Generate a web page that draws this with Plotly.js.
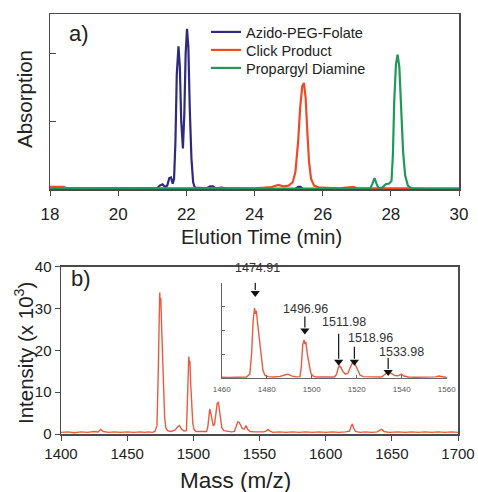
<!DOCTYPE html>
<html>
<head>
<meta charset="utf-8">
<script src="https://cdn.plot.ly/plotly-3.0.1.min.js"></script>
<style>html,body{margin:0;padding:0;background:#fff;}#chart{width:478px;height:492px;}</style>
</head>
<body>
<div id="chart"></div>
<script>
// ---------- Data: panel a) HPLC chromatograms ----------
const seriesNames = ['Azido-PEG-Folate', 'Click Product', 'Propargyl Diamine'];

const azidoTime = [18, 19, 20, 20.8, 21.15, 21.22, 21.3, 21.38, 21.44, 21.5, 21.55, 21.6, 21.64, 21.68, 21.72, 21.77, 21.81, 21.85, 21.9, 21.94, 21.98, 22.02, 22.06, 22.1, 22.15, 22.2, 22.25, 22.6, 22.7, 22.78, 22.86, 23.05, 23.15, 24, 25.2, 25.28, 25.35, 25.42, 26, 30];
const azidoAbs  = [0.01, 0.01, 0.0, 0.01, 0.01, 0.05, 0.07, 0.03, 0.05, 0.16, 0.17, 0.08, 0.15, 0.7, 1.7, 2.11, 1.8, 1.0, 0.6, 1.1, 2.0, 2.37, 2.1, 1.2, 0.45, 0.1, 0.02, 0.01, 0.04, 0.04, 0.01, 0.02, 0.01, 0, 0, 0.03, 0.03, 0, 0, 0];

const clickTime = [18, 18.4, 18.5, 19, 20, 21, 22, 23, 24, 24.3, 24.5, 24.7, 24.85, 25.0, 25.12, 25.2, 25.28, 25.34, 25.4, 25.45, 25.5, 25.55, 25.6, 25.66, 25.75, 25.9, 26.5, 26.9, 27, 28, 29, 30];
const clickAbs  = [0.03, 0.03, 0.01, 0.01, 0.01, 0.01, 0.0, 0.01, 0.01, 0.02, 0.03, 0.06, 0.04, 0.05, 0.1, 0.25, 0.7, 1.2, 1.52, 1.57, 1.35, 0.85, 0.4, 0.15, 0.05, 0.02, 0.01, 0.03, 0.01, 0.01, 0.01, 0.01];

const propTime = [18, 20, 22, 24, 26, 27, 27.4, 27.46, 27.52, 27.58, 27.64, 27.75, 27.85, 27.95, 28.02, 28.06, 28.1, 28.15, 28.2, 28.25, 28.3, 28.36, 28.42, 28.5, 28.6, 29, 30];
const propAbs  = [0, 0, 0, 0, 0, 0.01, 0.01, 0.08, 0.16, 0.08, 0.01, 0.02, 0.07, 0.08, 0.12, 0.5, 1.3, 1.85, 1.99, 1.8, 1.2, 0.55, 0.2, 0.05, 0.01, 0, 0];

// ---------- Data: panel b) mass spectrum (intensity x 10^3) ----------
const massMz = [1400, 1405, 1410, 1415, 1420, 1425, 1428, 1430, 1432, 1436, 1440, 1445, 1450, 1455, 1460, 1463, 1466, 1469, 1471, 1472.5, 1473.3, 1474, 1474.6, 1475, 1475.4, 1476, 1476.8, 1477.5, 1478.3, 1479.2, 1480.5, 1483, 1486, 1488, 1489.5, 1491, 1493, 1494.8, 1495.4, 1496, 1496.6, 1497, 1497.4, 1498, 1498.8, 1499.6, 1500.5, 1502, 1505, 1508, 1510, 1511, 1511.8, 1512.4, 1513, 1514, 1515, 1516, 1517, 1518, 1518.9, 1519.6, 1520.5, 1521.5, 1523, 1526, 1529, 1531, 1532.5, 1533.6, 1534.6, 1535.8, 1537, 1538.5, 1539.8, 1541, 1543, 1546, 1550, 1553, 1555, 1556.5, 1558, 1560, 1565, 1570, 1575, 1580, 1585, 1590, 1595, 1600, 1605, 1610, 1615, 1618, 1619.5, 1620.2, 1621, 1622.5, 1626, 1630, 1635, 1639, 1641, 1642.4, 1644, 1648, 1655, 1660, 1665, 1670, 1675, 1680, 1685, 1690, 1695, 1700];
const massInt = [0.4, 0.5, 0.3, 0.5, 0.4, 0.6, 0.5, 1.1, 0.6, 0.4, 0.5, 0.4, 0.5, 0.4, 0.5, 0.4, 0.5, 0.4, 0.6, 2.0, 12, 28, 33.8, 31, 32.5, 26, 18, 10, 4, 1.5, 0.8, 0.6, 0.9, 1.6, 2.0, 1.2, 0.7, 0.8, 6, 16, 18.5, 16.5, 17.5, 12, 6, 2.5, 1.1, 0.6, 0.6, 0.5, 0.6, 1.8, 5, 6.0, 5.2, 3.0, 2.0, 2.3, 5, 7.2, 7.7, 6.2, 3.5, 1.5, 0.8, 0.6, 0.5, 0.6, 1.8, 2.9, 2.8, 2.0, 1.3, 1.2, 2.0, 1.1, 0.6, 0.5, 0.5, 0.5, 0.7, 1.1, 0.7, 0.4, 0.5, 0.4, 0.5, 0.4, 0.5, 0.4, 0.5, 0.4, 0.5, 0.4, 0.5, 0.7, 2.0, 2.4, 1.5, 0.6, 0.4, 0.5, 0.4, 0.5, 0.9, 1.1, 0.6, 0.4, 0.5, 0.4, 0.5, 0.4, 0.5, 0.4, 0.5, 0.4, 0.5, 0.4];

// Labelled peaks of the inset
const peakMasses = [1474.91, 1496.96, 1511.98, 1518.96, 1533.98];
const peakLabels = ['1474.91', '1496.96', '1511.98', '1518.96', '1533.98'];

// ---------- Styling / layout ----------
const W = 478, H = 492;
const px = v => v / W;           // pixel -> paper x
const py = v => 1 - v / H;       // pixel -> paper y
const FONT = 'Liberation Sans, Arial, Helvetica, sans-serif';
const TXT = '#222';
const FRAME = '#4a4a4a';
const colors = ['#2e2a82', '#ee4a2a', '#20985a'];
const specColor = '#ea5a40';

// arrow geometry for inset labels
const arrowTip = [41.0, 23.0, 8.0, 8.0, 3.0];   // inset y units (head tip)
const arrowLen = [16, 14, 28, 15, 14];          // px
const labelX = [1476.1, 1497.2, 1514.2, 1526.0, 1540.0];
const labelPy = [268, 309, 322, 338, 352];     // px

const traces = [
  {x: azidoTime, y: azidoAbs, name: seriesNames[0], mode: 'lines', line: {color: colors[0], width: 2.2}, xaxis: 'x', yaxis: 'y', legend: 'legend'},
  {x: clickTime, y: clickAbs, name: seriesNames[1], mode: 'lines', line: {color: colors[1], width: 2.2}, xaxis: 'x', yaxis: 'y', legend: 'legend2'},
  {x: propTime, y: propAbs, name: seriesNames[2], mode: 'lines', line: {color: colors[2], width: 2.2}, xaxis: 'x', yaxis: 'y', legend: 'legend3'},
  {x: massMz, y: massInt, name: 'MS', mode: 'lines', line: {color: specColor, width: 1.4}, xaxis: 'x2', yaxis: 'y2', showlegend: false},
  {x: massMz, y: massInt, name: 'MS inset', mode: 'lines', line: {color: specColor, width: 1.4}, xaxis: 'x3', yaxis: 'y3', showlegend: false},
  {x: peakMasses, y: arrowTip, mode: 'markers', xaxis: 'x3', yaxis: 'y3', showlegend: false, cliponaxis: false,
    marker: {symbol: 'triangle-down', size: 8, color: '#111', line: {width: 0}}}
];

// arrow shafts (shapes anchored at the peak, sized in pixels)
const shapes = peakMasses.map((m, i) => ({type: 'line', xref: 'x3', yref: 'y3', x0: m, x1: m,
  ysizemode: 'pixel', yanchor: arrowTip[i], y0: 3, y1: arrowLen[i], line: {color: '#111', width: 1.2}}));

const axBase = {showgrid: false, zeroline: false, showline: true, linecolor: FRAME, linewidth: 1.5,
  tickcolor: FRAME, tickfont: {family: FONT, size: 15, color: TXT}};

const annotations = [
  {text: 'a)', xref: 'paper', yref: 'paper', x: px(67), y: py(34), xanchor: 'left', yanchor: 'middle', showarrow: false, font: {family: FONT, size: 22, color: TXT}},
  {text: 'b)', xref: 'paper', yref: 'paper', x: px(69), y: py(278), xanchor: 'left', yanchor: 'middle', showarrow: false, font: {family: FONT, size: 22, color: TXT}},
  {text: 'Elution Time (min)', xref: 'paper', yref: 'paper', x: px(261), y: py(237), xanchor: 'center', yanchor: 'middle', showarrow: false, font: {family: FONT, size: 20, color: TXT}},
  {text: 'Absorption', xref: 'paper', yref: 'paper', x: px(25), y: py(99), textangle: -90, xanchor: 'center', yanchor: 'middle', showarrow: false, font: {family: FONT, size: 20.5, color: TXT}},
  {text: 'Intensity (x 10<sup>3</sup>)', xref: 'paper', yref: 'paper', x: px(24), y: py(353), textangle: -90, xanchor: 'center', yanchor: 'middle', showarrow: false, font: {family: FONT, size: 20.5, color: TXT}},
  {text: 'Mass (m/z)', xref: 'paper', yref: 'paper', x: px(235), y: py(480), xanchor: 'center', yanchor: 'middle', showarrow: false, font: {family: FONT, size: 22.5, color: TXT}}
];
peakMasses.forEach((m, i) => {
  annotations.push({text: peakLabels[i], xref: 'x3', yref: 'paper', x: labelX[i], y: py(labelPy[i]), showarrow: false,
    xanchor: 'center', yanchor: 'middle', font: {family: FONT, size: 12.5, color: '#333'}});
});

const legBase = {xanchor: 'left', yanchor: 'middle', bgcolor: 'rgba(0,0,0,0)',
  font: {family: FONT, size: 14.5, color: TXT}, itemwidth: 30};

const layout = {
  width: W, height: H,
  margin: {l: 0, r: 0, t: 0, b: 0},
  paper_bgcolor: '#fff', plot_bgcolor: 'rgba(0,0,0,0)',
  font: {family: FONT, color: TXT},
  showlegend: true,
  legend: Object.assign({}, legBase, {x: px(206), y: py(32)}),
  legend2: Object.assign({}, legBase, {x: px(206), y: py(50)}),
  legend3: Object.assign({}, legBase, {x: px(206), y: py(68)}),
  xaxis: Object.assign({}, axBase, {domain: [px(50), px(459)], range: [18, 30], dtick: 2, tick0: 18,
    ticks: 'outside', ticklen: 5, mirror: true, anchor: 'y', ticklabelstandoff: 4,
    tickfont: {family: FONT, size: 17, color: TXT}}),
  yaxis: Object.assign({}, axBase, {domain: [py(189), py(14)], range: [0, 2.59], dtick: 1, tick0: 0,
    ticks: 'inside', ticklen: 6, showticklabels: false, mirror: true, anchor: 'x'}),
  xaxis2: Object.assign({}, axBase, {domain: [px(61), px(458)], range: [1400, 1700], dtick: 50, tick0: 1400,
    ticks: 'outside', ticklen: 5, mirror: true, anchor: 'y2'}),
  yaxis2: Object.assign({}, axBase, {domain: [py(434), py(266.5)], range: [0, 40], dtick: 10, tick0: 0,
    ticks: 'outside', ticklen: 5, mirror: true, anchor: 'x2'}),
  xaxis3: {domain: [px(221.7), px(446.7)], range: [1460, 1560], dtick: 20, tick0: 1460, anchor: 'y3',
    showgrid: false, zeroline: false, showline: true, linecolor: '#666', linewidth: 1, ticklabelstandoff: 3,
    ticks: 'inside', ticklen: 3, tickcolor: '#666', tickfont: {family: FONT, size: 8, color: '#555'}},
  yaxis3: {domain: [py(378.3), py(282.7)], range: [0, 46], dtick: 11.5, tick0: 0, anchor: 'x3',
    showgrid: false, zeroline: false, showline: true, linecolor: '#666', linewidth: 1,
    ticks: 'inside', ticklen: 3, tickcolor: '#666', showticklabels: false},
  shapes: shapes,
  annotations: annotations
};

Plotly.newPlot('chart', traces, layout, {displayModeBar: false, staticPlot: true});
</script>
</body>
</html>
